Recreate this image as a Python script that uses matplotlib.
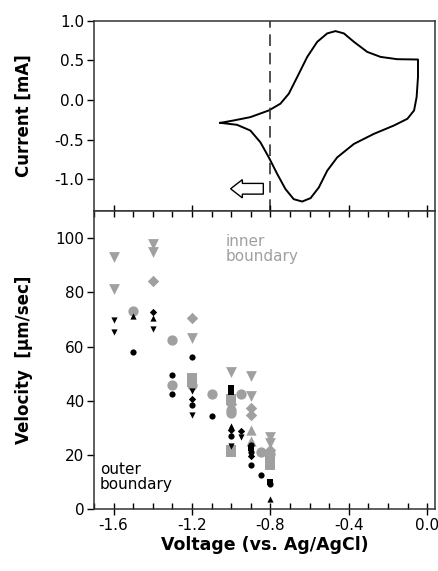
import numpy as np
import matplotlib
matplotlib.use("Agg")
import matplotlib.pyplot as plt

plt.rcParams['font.family'] = ['DejaVu Sans']
plt.rcParams['font.size'] = 11

# cyclic voltammogram (V, mA), traced around the loop
cv_v = [-1.055, -0.987, -0.902, -0.808, -0.749, -0.706, -0.663, -0.612, -0.561, -0.510,
        -0.468, -0.425, -0.374, -0.306, -0.238, -0.153, -0.047, -0.047, -0.054, -0.067,
        -0.101, -0.170, -0.272, -0.374, -0.459, -0.510, -0.553, -0.595, -0.638, -0.681,
        -0.723, -0.765, -0.808, -0.851, -0.902, -0.970, -1.055]
cv_i = [-0.289, -0.259, -0.217, -0.133, -0.048, 0.078, 0.289, 0.542, 0.732, 0.838,
        0.867, 0.838, 0.732, 0.605, 0.542, 0.513, 0.509, 0.289, 0.035, -0.133,
        -0.238, -0.323, -0.428, -0.555, -0.724, -0.892, -1.104, -1.238, -1.281, -1.251,
        -1.124, -0.934, -0.724, -0.534, -0.386, -0.314, -0.289]

# inner boundary (gray)
gin_tdown_v = [-1.6, -1.6, -1.4, -1.4, -1.2, -1.0, -0.9, -0.9, -0.8, -0.8]
gin_tdown_y = [93.0, 81.2, 97.9, 94.8, 63.0, 50.6, 49.1, 41.7, 26.7, 24.4]
gin_diam_v = [-1.4, -1.2, -1.0, -0.9, -0.9, -0.8]
gin_diam_y = [84.3, 70.4, 39.0, 37.4, 34.9, 21.9]
gin_circ_v = [-1.5, -1.3, -1.3, -1.2, -1.1, -1.0, -1.0, -0.95, -0.85, -0.8]
gin_circ_y = [73.0, 62.5, 46.0, 45.8, 42.7, 36.8, 35.5, 42.7, 21.0, 20.5]
gin_sq_v = [-1.2, -1.2, -1.0, -1.0, -1.0, -0.8, -0.8]
gin_sq_y = [48.5, 46.9, 40.5, 21.9, 21.3, 18.3, 16.4]
gin_tup_v = [-0.9, -0.9]
gin_tup_y = [29.4, 25.1]

# outer boundary (black)
out_tdown_v = [-1.6, -1.6, -1.4, -1.2, -1.2, -1.0, -0.95]
out_tdown_y = [69.9, 65.2, 66.6, 43.8, 34.9, 23.4, 26.7]
out_diam_v = [-1.4, -1.2, -1.0, -0.95, -0.9]
out_diam_y = [72.6, 40.5, 29.4, 28.8, 19.5]
out_circ_v = [-1.5, -1.3, -1.3, -1.2, -1.2, -1.1, -1.0, -0.9, -0.9, -0.9, -0.85, -0.8]
out_circ_y = [58.0, 49.7, 42.7, 56.2, 38.6, 34.3, 27.1, 23.8, 21.0, 16.4, 12.7, 9.4]
out_sq_v = [-1.0, -1.0, -0.9, -0.8]
out_sq_y = [44.8, 43.2, 22.6, 10.2]
out_tup_v = [-1.5, -1.4, -1.0, -0.8]
out_tup_y = [71.4, 70.7, 30.6, 3.8]

gray = '#a0a0a0'

fig = plt.figure(figsize=(4.39, 5.71), dpi=100)
ax1 = fig.add_axes([0.214, 0.6305, 0.777, 0.3335])
ax2 = fig.add_axes([0.214, 0.108, 0.777, 0.5225])

# top panel
ax1.plot(cv_v, cv_i, color='black', lw=1.4, solid_joinstyle='round')
ax1.axvline(-0.8, color='#333333', lw=1.2, ls=(0, (7, 4)))
ax1.arrow(-0.836, -1.12, -0.167, 0, width=0.135, head_width=0.23, head_length=0.06,
          fc='white', ec='black', lw=1.0, length_includes_head=True, zorder=4)
ax1.set_xlim(-1.7, 0.04)
ax1.set_ylim(-1.4, 1.0)
ax1.set_yticks([-1.0, -0.5, 0.0, 0.5, 1.0])
ax1.set_yticklabels(['-1.0', '-0.5', '0.0', '0.5', '1.0'])
ax1.set_xticks([])
ax1.tick_params(axis='y', direction='out', length=5, width=1, pad=2)
ax1.set_ylabel('Current [mA]', fontweight='bold', fontsize=12, labelpad=16)

# bottom panel
def sc(v, y, c, m, s):
    ax2.scatter(v, y, color=c, marker=m, s=s, linewidths=0, zorder=3)

sc(gin_tdown_v, gin_tdown_y, gray, 'v', 60)
sc(gin_diam_v, gin_diam_y, gray, 'D', 34)
sc(gin_circ_v, gin_circ_y, gray, 'o', 55)
sc(gin_sq_v, gin_sq_y, gray, 's', 45)
sc(gin_tup_v, gin_tup_y, gray, '^', 55)
sc(out_tdown_v, out_tdown_y, 'black', 'v', 20)
sc(out_diam_v, out_diam_y, 'black', 'D', 14)
sc(out_circ_v, out_circ_y, 'black', 'o', 20)
sc(out_sq_v, out_sq_y, 'black', 's', 22)
sc(out_tup_v, out_tup_y, 'black', '^', 20)

ax2.text(-1.03, 101.5, 'inner\nboundary', color=gray, va='top', ha='left', linespacing=1.0)
ax2.text(-1.67, 17.5, 'outer\nboundary', color='black', va='top', ha='left', linespacing=1.0)

ax2.set_xlim(-1.7, 0.04)
ax2.set_ylim(0, 110)
ax2.set_xticks([-1.6, -1.2, -0.8, -0.4, 0.0])
ax2.set_xticklabels(['-1.6', '-1.2', '-0.8', '-0.4', '0.0'])
ax2.set_xticks(np.arange(-1.7, 0.05, 0.1), minor=True)
ax2.set_yticks([0, 20, 40, 60, 80, 100])
ax2.tick_params(axis='x', which='major', direction='inout', length=9, width=1, top=True, pad=2)
ax2.tick_params(axis='x', which='minor', direction='in', length=4, width=1, top=True)
ax2.tick_params(axis='y', direction='out', length=5, width=1, pad=2)
ax2.set_ylabel('Velocity  [\u03bcm/sec]', fontweight='bold', fontsize=12, labelpad=16)
ax2.set_xlabel('Voltage (vs. Ag/AgCl)', fontweight='bold', fontsize=12.5, labelpad=2)

for ax in (ax1, ax2):
    for sp in ax.spines.values():
        sp.set_linewidth(1.1)
        sp.set_color('#333333')

fig.savefig('out.png', dpi=100)
